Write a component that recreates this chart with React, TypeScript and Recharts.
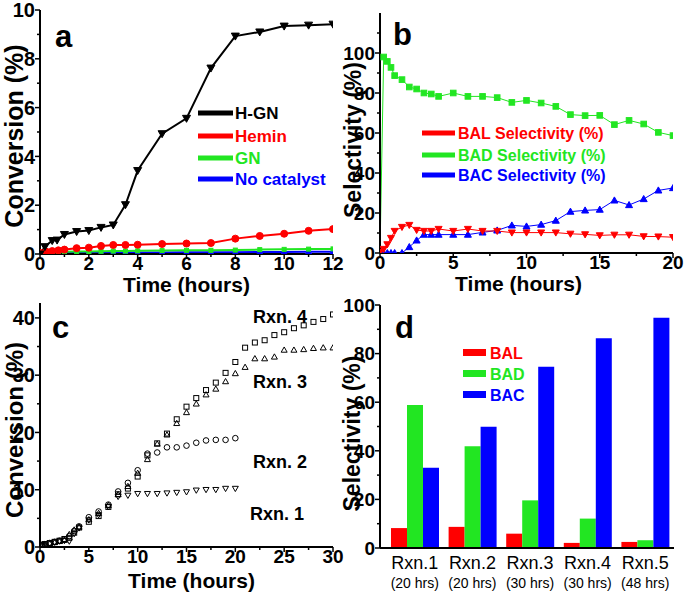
import React from 'react';
import { LineChart, Line, XAxis, YAxis, ReferenceArea, BarChart, Bar, Label } from 'recharts';

const FONT = '"Liberation Sans", Arial, Helvetica, sans-serif';
const RED = '#ff0000';
const GREEN = '#22e622';
const BLUE = '#0000ff';

// ---------- Panel a: conversion vs time ----------
const timeHGN = [0, 0.2, 0.5, 0.7, 1, 1.5, 2, 2.5, 3, 3.5, 4, 5, 6, 7, 8, 9, 10, 11, 12];
const convHGN = [0, 0.3, 0.55, 0.57, 0.8, 0.92, 0.96, 1.09, 1.19, 2.02, 3.42, 4.93, 5.56, 7.62, 8.93, 9.1, 9.34, 9.38, 9.42];
const timeLow = [0, 0.25, 0.5, 0.75, 1, 1.5, 2, 2.5, 3, 3.5, 4, 5, 6, 7, 8, 9, 10, 11, 12];
const convHemin = [0.05, 0.1, 0.12, 0.15, 0.18, 0.24, 0.26, 0.33, 0.37, 0.37, 0.38, 0.41, 0.43, 0.45, 0.63, 0.74, 0.83, 0.95, 1.02];
const convGN = [0.02, 0.05, 0.07, 0.08, 0.09, 0.1, 0.1, 0.11, 0.12, 0.12, 0.13, 0.14, 0.15, 0.15, 0.16, 0.18, 0.19, 0.2, 0.21];
const convNone = [0, 0.02, 0.03, 0.03, 0.04, 0.04, 0.05, 0.05, 0.05, 0.06, 0.06, 0.06, 0.07, 0.07, 0.07, 0.08, 0.08, 0.09, 0.09];
const ticksAx = [0, 2, 4, 6, 8, 10, 12];
const minorAx = [1, 3, 5, 7, 9, 11];
const ticksAy = [0, 2, 4, 6, 8, 10];
const minorAy = [1, 3, 5, 7, 9];

// ---------- Panel b: selectivity vs time ----------
const timeB = [0, 0.25, 0.5, 0.75, 1, 1.5, 2, 2.5, 3, 3.5, 4, 5, 6, 7, 8, 9, 10, 11, 12, 13, 14, 15, 16, 17, 18, 19, 20];
const selBADt = [0, 98, 95.8, 92.8, 88.7, 86.7, 83, 82, 80, 79.5, 78.3, 80, 78.3, 78.3, 77.7, 75.3, 76.3, 75, 73.3, 69.2, 68.7, 68.8, 64.2, 66.3, 64.5, 60.3, 58.7];
const selBALt = [0.5, 2, 4.3, 7.5, 11, 13, 14, 11.5, 11, 11, 12, 11, 12, 11, 11, 10.2, 10.2, 10.2, 10.2, 9.6, 9.3, 8.8, 9.1, 9.1, 8.3, 8.2, 7.9];
const selBACt = [0, 0, 0, 0, 0, 0, 3, 6.3, 9.2, 9.2, 9.2, 9.2, 9.2, 10.3, 11.3, 13.8, 13.3, 14.2, 16.2, 20.7, 21.3, 21.7, 26.3, 24, 27, 31.3, 32.5];
const ticksBx = [0, 5, 10, 15, 20];
const minorBx = [2.5, 7.5, 12.5, 17.5];
const ticksBy = [0, 20, 40, 60, 80, 100];
const minorBy = [10, 30, 50, 70, 90, 110];

// ---------- Panel c: conversion for reactions ----------
const timeC20 = [0.25, 0.5, 1, 1.5, 2, 2.5, 3, 3.5, 4, 5, 6, 7, 8, 9, 10, 11, 12, 13, 14, 15, 16, 17, 18, 19, 20];
const timeC30 = [0.25, 0.5, 1, 1.5, 2, 2.5, 3, 3.5, 4, 5, 6, 7, 8, 9, 10, 11, 12, 13, 14, 15, 16, 17, 18, 19, 20, 21, 22, 23, 24, 25, 26, 27, 28, 29, 30];
const rxn1 = [0.3, 0.5, 0.6, 0.8, 1.0, 1.1, 1.0, 2.3, 3.3, 4.7, 5.6, 7.0, 8.8, 9.0, 9.3, 9.3, 9.3, 9.4, 9.5, 9.6, 9.9, 10.0, 10.0, 10.2, 10.2];
const rxn2 = [0.4, 0.5, 0.7, 0.9, 1.1, 1.3, 1.9, 2.8, 3.6, 5.2, 6.2, 7.4, 9.7, 11.2, 13.4, 16.3, 16.5, 17.4, 17.4, 17.7, 18.2, 18.6, 18.7, 18.7, 19.0];
const rxn3 = [0.3, 0.5, 0.6, 0.8, 1.0, 1.2, 2.2, 3.0, 3.5, 4.8, 5.9, 7.3, 9.2, 10.6, 12.9, 15.3, 18.0, 19.6, 21.6, 23.5, 25.0, 26.6, 27.6, 28.9, 30.3, 31.4, 32.9, 32.9, 33.2, 34.4, 34.4, 34.5, 34.7, 34.8, 34.8];
const rxn4 = [0.3, 0.5, 0.7, 0.9, 1.1, 1.4, 1.6, 2.5, 3.4, 4.4, 5.4, 7.0, 9.2, 10.2, 12.3, 16.0, 18.1, 19.8, 22.3, 24.5, 26.0, 27.4, 28.7, 30.4, 32.3, 34.8, 35.7, 36.1, 37.0, 37.5, 38.2, 38.7, 39.3, 39.8, 40.6];
const ticksCx = [0, 5, 10, 15, 20, 25, 30];
const minorCx = [2.5, 7.5, 12.5, 17.5, 22.5, 27.5];
const ticksCy = [0, 10, 20, 30, 40];
const minorCy = [5, 15, 25, 35];

// ---------- Panel d: selectivity bars ----------
const runs = ['Rxn.1', 'Rxn.2', 'Rxn.3', 'Rxn.4', 'Rxn.5'];
const runHours = ['(20 hrs)', '(20 hrs)', '(30 hrs)', '(30 hrs)', '(48 hrs)'];
const barBAL = [8.2, 8.7, 5.9, 2.1, 2.5];
const barBAD = [58.8, 41.9, 19.6, 12.1, 3.2];
const barBAC = [33.0, 49.9, 74.6, 86.3, 94.8];
const ticksDy = [0, 20, 40, 60, 80, 100];
const minorDy = [10, 30, 50, 70, 90];

const zip = (xs: number[], ys: number[]) => xs.map((x, i) => ({ x, y: ys[i] }));
const barData = runs.map((name, i) => ({ name, hrs: runHours[i], BAL: barBAL[i], BAD: barBAD[i], BAC: barBAC[i] }));

// ---------- helpers ----------
const marker = (kind: string, s: number, fill: string, stroke: string, sw = 1) => (props: any) => {
  const { cx, cy, index } = props;
  if (cx == null || cy == null || isNaN(cx) || isNaN(cy)) return <g key={`m${index}`} />;
  const common = { fill, stroke, strokeWidth: sw };
  if (kind === 'down')
    return <polygon key={`m${index}`} points={`${cx - s},${cy - s * 0.75} ${cx + s},${cy - s * 0.75} ${cx},${cy + s}`} {...common} />;
  if (kind === 'up')
    return <polygon key={`m${index}`} points={`${cx - s},${cy + s * 0.75} ${cx + s},${cy + s * 0.75} ${cx},${cy - s}`} {...common} />;
  if (kind === 'square')
    return <rect key={`m${index}`} x={cx - s} y={cy - s} width={2 * s} height={2 * s} {...common} />;
  return <circle key={`m${index}`} cx={cx} cy={cy} r={s} {...common} />;
};

const makeTick = (orient: 'bottom' | 'left', majors: number[], fs: number) => (props: any) => {
  const { x, y, payload, index } = props;
  const v = payload.value;
  const major = majors.includes(v);
  const len = major ? 5 : 3;
  if (orient === 'bottom') {
    return (
      <g key={`t${index}`}>
        <line x1={x} x2={x} y1={y} y2={y + len} stroke="#000" strokeWidth={1.5} />
        {major && (
          <text x={x} y={y + 16} textAnchor="middle" fontSize={fs} fontWeight="bold" fontFamily={FONT} fill="#000">
            {v}
          </text>
        )}
      </g>
    );
  }
  return (
    <g key={`t${index}`}>
      <line x1={x - len} x2={x} y1={y} y2={y} stroke="#000" strokeWidth={1.5} />
      {major && (
        <text x={x - 5} y={y + fs * 0.36} textAnchor="end" fontSize={fs} fontWeight="bold" fontFamily={FONT} fill="#000">
          {v}
        </text>
      )}
    </g>
  );
};

const xTitle = (text: string, dy: number, dx = 0) => (props: any) => {
  const vb = props.viewBox || {};
  return (
    <text x={vb.x + vb.width / 2 + dx} y={vb.y + dy} textAnchor="middle" fontSize={21} fontWeight="bold" fontFamily={FONT} fill="#000">
      {text}
    </text>
  );
};

const yTitle = (text: string, cxOff: number, fs: number, dy = 0) => (props: any) => {
  const vb = props.viewBox || {};
  const cx = vb.x + cxOff;
  const cy = vb.y + vb.height / 2 + dy;
  return (
    <text x={cx} y={cy} transform={`rotate(-90 ${cx} ${cy})`} textAnchor="middle" dominantBaseline="central" fontSize={fs} fontWeight="bold" fontFamily={FONT} fill="#000">
      {text}
    </text>
  );
};

const dTick = (props: any) => {
  const { x, y, index } = props;
  return (
    <g key={`d${index}`}>
      <text x={x} y={y + 21} textAnchor="middle" fontSize={18} fontFamily={FONT} fill="#000">{runs[index]}</text>
      <text x={x} y={y + 40} textAnchor="middle" fontSize={14} fontFamily={FONT} fill="#000">{runHours[index]}</text>
    </g>
  );
};

const W = 685;
const H = 597;
const abs: React.CSSProperties = { position: 'absolute', left: 0, top: 0 };
const axisLine = { stroke: '#000', strokeWidth: 2 };
const letter = (t: string, x: number, y: number) => (
  <text x={x} y={y} fontSize={31} fontWeight="bold" fontFamily={FONT} fill="#000">{t}</text>
);

export default function App() {
  return (
    <div style={{ position: 'absolute', left: 0, top: 0, width: W, height: H, background: '#fff', fontFamily: FONT }}>
      {/* Panel a */}
      <div style={abs}>
        <LineChart width={W} height={H} margin={{ top: 10, right: 352, left: 0, bottom: 300 }}>
          <XAxis dataKey="x" type="number" domain={[0, 12]} ticks={[...ticksAx, ...minorAx]} interval={0} height={43}
            tickLine={false} tickSize={0} tickMargin={0} axisLine={axisLine} tick={makeTick('bottom', ticksAx, 19)} allowDataOverflow>
            <Label content={xTitle('Time (hours)', 38)} />
          </XAxis>
          <YAxis type="number" domain={[0, 10]} ticks={[...ticksAy, ...minorAy]} interval={0} width={40}
            tickLine={false} tickSize={0} tickMargin={0} axisLine={axisLine} tick={makeTick('left', ticksAy, 20)} allowDataOverflow>
            <Label content={yTitle('Conversion (%)', 14, 25, 4)} />
          </YAxis>
          <ReferenceArea fill="none" stroke="#000" strokeWidth={2} ifOverflow="visible" />
          <Line data={zip(timeLow, convNone)} dataKey="y" stroke={BLUE} strokeWidth={2} dot={marker('up', 3, BLUE, BLUE)} activeDot={false} isAnimationActive={false} />
          <Line data={zip(timeLow, convGN)} dataKey="y" stroke={GREEN} strokeWidth={2} dot={marker('square', 2, GREEN, GREEN)} activeDot={false} isAnimationActive={false} />
          <Line data={zip(timeLow, convHemin)} dataKey="y" stroke={RED} strokeWidth={2} dot={marker('circle', 3.5, RED, RED)} activeDot={false} isAnimationActive={false} />
          <Line data={zip(timeHGN, convHGN)} dataKey="y" stroke="#000" strokeWidth={2} dot={marker('down', 4, '#000', '#000')} activeDot={false} isAnimationActive={false} />
          {letter('a', 55, 47)}
          <line x1={198} x2={233} y1={113} y2={113} stroke="#000" strokeWidth={5} />
          <text x={235} y={119} fontSize={17} fontWeight="bold" fontFamily={FONT} fill="#000">H-GN</text>
          <line x1={198} x2={233} y1={136} y2={136} stroke={RED} strokeWidth={5} />
          <text x={235} y={142} fontSize={17} fontWeight="bold" fontFamily={FONT} fill={RED}>Hemin</text>
          <line x1={198} x2={233} y1={158} y2={158} stroke={GREEN} strokeWidth={5} />
          <text x={235} y={164} fontSize={17} fontWeight="bold" fontFamily={FONT} fill={GREEN}>GN</text>
          <line x1={198} x2={233} y1={179} y2={179} stroke={BLUE} strokeWidth={5} />
          <text x={235} y={185} fontSize={17} fontWeight="bold" fontFamily={FONT} fill={BLUE}>No catalyst</text>
        </LineChart>
      </div>

      {/* Panel b */}
      <div style={abs}>
        <LineChart width={W} height={H} margin={{ top: 13, right: 12, left: 340, bottom: 300 }}>
          <XAxis dataKey="x" type="number" domain={[0, 20]} ticks={[...ticksBx, ...minorBx]} interval={0} height={44}
            tickLine={false} tickSize={0} tickMargin={0} axisLine={axisLine} tick={makeTick('bottom', ticksBx, 19)} allowDataOverflow>
            <Label content={xTitle('Time (hours)', 38, -8)} />
          </XAxis>
          <YAxis type="number" domain={[0, 120]} ticks={[...ticksBy, ...minorBy]} interval={0} width={40}
            tickLine={false} tickSize={0} tickMargin={0} axisLine={axisLine} tick={makeTick('left', ticksBy, 19)} allowDataOverflow>
            <Label content={yTitle('Selectivity (%)', 13, 23, 7)} />
          </YAxis>
          <ReferenceArea fill="none" stroke="#000" strokeWidth={2} ifOverflow="visible" />
          <Line data={zip(timeB, selBADt)} dataKey="y" stroke={GREEN} strokeWidth={1} dot={marker('square', 2.8, GREEN, GREEN)} activeDot={false} isAnimationActive={false} />
          <Line data={zip(timeB, selBACt)} dataKey="y" stroke={BLUE} strokeWidth={1} dot={marker('up', 3.5, BLUE, BLUE)} activeDot={false} isAnimationActive={false} />
          <Line data={zip(timeB, selBALt)} dataKey="y" stroke={RED} strokeWidth={1} dot={marker('down', 3.5, RED, RED)} activeDot={false} isAnimationActive={false} />
          {letter('b', 393, 45)}
          <line x1={422} x2={455} y1={133} y2={133} stroke={RED} strokeWidth={5} />
          <text x={458} y={139} fontSize={16} fontWeight="bold" fontFamily={FONT} fill={RED}>BAL Selectivity (%)</text>
          <line x1={422} x2={455} y1={155} y2={155} stroke={GREEN} strokeWidth={5} />
          <text x={458} y={161} fontSize={16} fontWeight="bold" fontFamily={FONT} fill={GREEN}>BAD Selectivity (%)</text>
          <line x1={422} x2={455} y1={175} y2={175} stroke={BLUE} strokeWidth={5} />
          <text x={458} y={181} fontSize={16} fontWeight="bold" fontFamily={FONT} fill={BLUE}>BAC Selectivity (%)</text>
        </LineChart>
      </div>

      {/* Panel c */}
      <div style={abs}>
        <LineChart width={W} height={H} margin={{ top: 303, right: 352, left: 0, bottom: 0 }}>
          <XAxis dataKey="x" type="number" domain={[0, 30]} ticks={[...ticksCx, ...minorCx]} interval={0} height={50}
            tickLine={false} tickSize={0} tickMargin={0} axisLine={axisLine} tick={makeTick('bottom', ticksCx, 19)} allowDataOverflow>
            <Label content={xTitle('Time (hours)', 41, 5)} />
          </XAxis>
          <YAxis type="number" domain={[0, 42.6]} ticks={[...ticksCy, ...minorCy]} interval={0} width={40}
            tickLine={false} tickSize={0} tickMargin={0} axisLine={axisLine} tick={makeTick('left', ticksCy, 20)} allowDataOverflow>
            <Label content={yTitle('Conversion (%)', 14, 24, 5)} />
          </YAxis>
          <ReferenceArea fill="none" stroke="#000" strokeWidth={2} ifOverflow="visible" />
          <Line data={zip(timeC20, rxn1)} dataKey="y" stroke="none" dot={marker('down', 3, 'none', '#000', 1)} activeDot={false} isAnimationActive={false} />
          <Line data={zip(timeC20, rxn2)} dataKey="y" stroke="none" dot={marker('circle', 2.8, 'none', '#000', 1)} activeDot={false} isAnimationActive={false} />
          <Line data={zip(timeC30, rxn3)} dataKey="y" stroke="none" dot={marker('up', 3, 'none', '#000', 1)} activeDot={false} isAnimationActive={false} />
          <Line data={zip(timeC30, rxn4)} dataKey="y" stroke="none" dot={marker('square', 2.5, 'none', '#000', 1)} activeDot={false} isAnimationActive={false} />
          {letter('c', 52, 338)}
          <text x={253} y={323} fontSize={18} fontWeight="bold" fontFamily={FONT} fill="#000">Rxn. 4</text>
          <text x={253} y={388} fontSize={18} fontWeight="bold" fontFamily={FONT} fill="#000">Rxn. 3</text>
          <text x={253} y={468} fontSize={18} fontWeight="bold" fontFamily={FONT} fill="#000">Rxn. 2</text>
          <text x={250} y={520} fontSize={18} fontWeight="bold" fontFamily={FONT} fill="#000">Rxn. 1</text>
        </LineChart>
      </div>

      {/* Panel d */}
      <div style={abs}>
        <BarChart width={W} height={H} data={barData} barGap={0} margin={{ top: 305, right: 11, left: 340, bottom: 0 }}>
          <XAxis dataKey="name" type="category" height={49} padding={{ left: 6, right: 0 }} interval={0}
            tickLine={false} tickSize={0} tickMargin={0} axisLine={axisLine} tick={dTick} />
          <YAxis type="number" domain={[0, 100]} ticks={[...ticksDy, ...minorDy]} interval={0} width={40}
            tickLine={false} tickSize={0} tickMargin={0} axisLine={axisLine} tick={makeTick('left', ticksDy, 19)} allowDataOverflow>
            <Label content={yTitle('Selectivity (%)', 12, 23, 7)} />
          </YAxis>
          <ReferenceArea fill="none" stroke="#000" strokeWidth={2} ifOverflow="visible" />
          <Bar dataKey="BAL" fill={RED} barSize={16} isAnimationActive={false} />
          <Bar dataKey="BAD" fill={GREEN} barSize={16} isAnimationActive={false} />
          <Bar dataKey="BAC" fill={BLUE} barSize={16} isAnimationActive={false} />
          {letter('d', 395, 338)}
          <rect x={463} y={349} width={23} height={7} fill={RED} />
          <text x={490} y={359} fontSize={16} fontWeight="bold" fontFamily={FONT} fill={RED}>BAL</text>
          <rect x={463} y={370} width={23} height={7} fill={GREEN} />
          <text x={490} y={380} fontSize={16} fontWeight="bold" fontFamily={FONT} fill={GREEN}>BAD</text>
          <rect x={463} y={391} width={23} height={7} fill={BLUE} />
          <text x={490} y={401} fontSize={16} fontWeight="bold" fontFamily={FONT} fill={BLUE}>BAC</text>
        </BarChart>
      </div>
    </div>
  );
}
